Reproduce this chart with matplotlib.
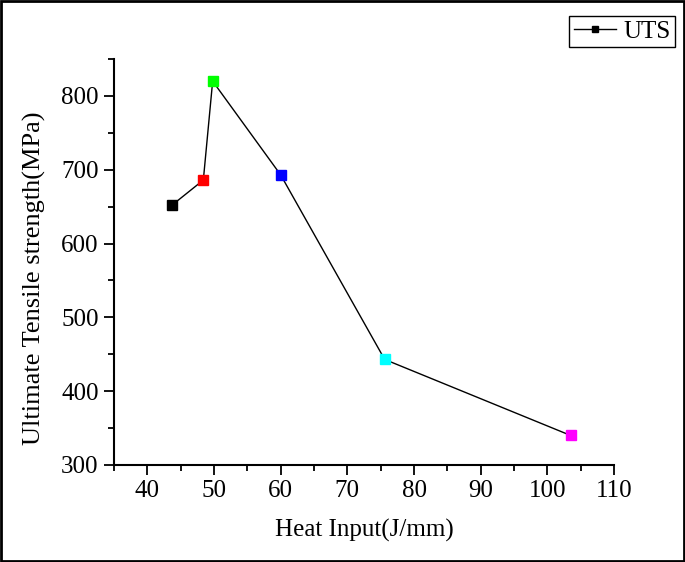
import matplotlib
matplotlib.use("Agg")
import matplotlib.pyplot as plt
from matplotlib.lines import Line2D
from matplotlib.patches import Rectangle
from matplotlib.ticker import MultipleLocator

# Daten
heat_input = [43.7, 48.4, 49.8, 60.0, 75.6, 103.5]
uts = [652, 686, 820, 693, 443, 340]
point_colors = ["#000000", "#ff0000", "#00ff00", "#0000ff", "#00ffff", "#ff00ff"]

plt.rcParams["font.family"] = ["Liberation Serif", "DejaVu Serif"]

fig = plt.figure(figsize=(6.85, 5.62), dpi=100)
ax = fig.add_axes([0.1664, 0.1726, 0.73, 0.7224])

# Linie und farbige Punkte
ax.plot(heat_input, uts, color="black", lw=1.0, zorder=1)
for x, y, c in zip(heat_input, uts, point_colors):
    ax.plot(x, y, "s", color=c, markersize=7, zorder=2)

ax.set_xlim(35, 110)
ax.set_ylim(300, 850)
ax.xaxis.set_major_locator(MultipleLocator(10))
ax.xaxis.set_minor_locator(MultipleLocator(5))
ax.yaxis.set_major_locator(MultipleLocator(100))
ax.yaxis.set_minor_locator(MultipleLocator(50))

for side in ["top", "right"]:
    ax.spines[side].set_visible(False)
for side in ["left", "bottom"]:
    ax.spines[side].set_linewidth(1.5)

ax.tick_params(which="major", direction="out", length=7, width=1.3, labelsize=18, pad=4)
ax.tick_params(which="minor", direction="out", length=4.5, width=1.3)

ax.set_xlabel("Heat Input(J/mm)", fontsize=18, labelpad=12)
ax.set_ylabel("Ultimate Tensile strength(MPa)", fontsize=19)
ax.yaxis.set_label_coords(-0.135, 0.46)

handle = Line2D([], [], color="black", lw=1.0, marker="s", markersize=5)
fig.legend([handle], ["UTS"], loc="upper right", bbox_to_anchor=(0.986, 0.972),
           fontsize=18, frameon=True, fancybox=False, edgecolor="black",
           framealpha=1, handlelength=1.7, handletextpad=0.3, borderpad=0.18,
           borderaxespad=0)

# Rahmen um die ganze Abbildung
fig.patches.append(Rectangle((0.002, 0.002), 0.996, 0.996, transform=fig.transFigure,
                             fill=False, edgecolor="black", lw=2))

fig.savefig("out.png", dpi=100)
